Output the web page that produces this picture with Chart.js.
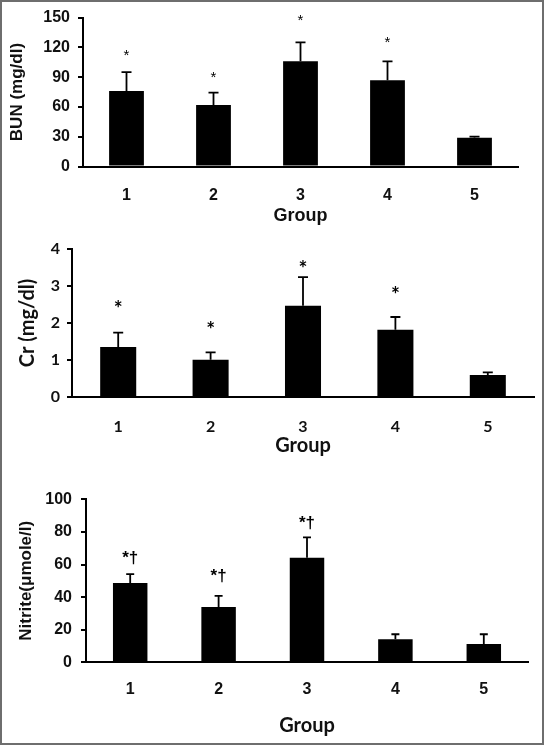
<!DOCTYPE html>
<html>
<head>
<meta charset="utf-8">
<script src="https://cdn.jsdelivr.net/npm/chart.js@4.4.1/dist/chart.umd.min.js"></script>
<style>
  html, body { margin: 0; padding: 0; background: #fff; }
  #frame { position: relative; width: 544px; height: 745px; overflow: hidden; background: #fff; }
  #frame:after { content: ""; position: absolute; left: 0; top: 0; width: 540px; height: 741px; border: 2px solid #6e6e6e; pointer-events: none; }
  canvas { position: absolute; left: 0; }
</style>
</head>
<body>
<div id="frame">
  <canvas id="c1" width="544" height="232" style="top:0px"></canvas>
  <canvas id="c2" width="544" height="228" style="top:232px"></canvas>
  <canvas id="c3" width="544" height="285" style="top:460px"></canvas>
</div>
<script>
// ---- data ----
const groups = ['1', '2', '3', '4', '5'];

const bunMean = [76, 62, 106, 87, 29];
const bunSD   = [19, 12.5, 19, 19, 1];
const bunMarks = ['*', '*', '*', '*', ''];
const bunMarkLevel = [115, 93, 151, 128, null];
const bunTicks = [0, 30, 60, 90, 120, 150];

const crMean = [1.35, 1.01, 2.46, 1.82, 0.6];
const crSD   = [0.39, 0.2, 0.77, 0.34, 0.07];
const crMarks = ['*', '*', '*', '*', ''];
const crMarkLevel = [2.48, 1.91, 3.55, 2.87, null];
const crTicks = [0, 1, 2, 3, 4];

const nitMean = [48.7, 34, 64.1, 14.1, 11.3];
const nitSD   = [5.4, 6.8, 12.5, 3.1, 5.9];
const nitMarks = ['*†', '*†', '*†', '', ''];
const nitMarkLevel = [63.4, 52.5, 84.8, null, null];
const nitTicks = [0, 20, 40, 60, 80, 100];

// ---- error bar + significance mark plugin ----
const errPlugin = {
  id: 'errbars',
  afterDatasetsDraw(chart, args, o) {
    const ctx = chart.ctx;
    const meta = chart.getDatasetMeta(0);
    const ys = chart.scales.y;
    const vals = chart.data.datasets[0].data;
    ctx.save();
    ctx.strokeStyle = '#000';
    ctx.lineWidth = o.lineWidth;
    meta.data.forEach((bar, i) => {
      const yBar = ys.getPixelForValue(vals[i]);
      const yTop = ys.getPixelForValue(vals[i] + o.errors[i]);
      ctx.beginPath();
      ctx.moveTo(bar.x, yBar);
      ctx.lineTo(bar.x, yTop);
      ctx.moveTo(bar.x - o.cap / 2, yTop);
      ctx.lineTo(bar.x + o.cap / 2, yTop);
      ctx.stroke();
      const m = o.marks[i];
      if (m) {
        ctx.fillStyle = '#000';
        ctx.font = o.font;
        ctx.textAlign = 'center';
        ctx.textBaseline = 'alphabetic';
        ctx.fillText(m, bar.x, ys.getPixelForValue(o.levels[i]) + o.baseShift);
      }
    });
    ctx.restore();
  }
};

function makeChart(id, cfg) {
  const tickVals = cfg.ticks;
  return new Chart(document.getElementById(id), {
    type: 'bar',
    data: {
      labels: groups,
      datasets: [{
        data: cfg.mean,
        backgroundColor: '#000',
        borderColor: '#000',
        borderWidth: 0,
        categoryPercentage: 1,
        barPercentage: cfg.barPct
      }]
    },
    options: {
      responsive: false,
      animation: false,
      events: [],
      layout: { padding: { top: cfg.padTop, right: cfg.padRight, left: 0, bottom: 0 } },
      plugins: {
        legend: { display: false },
        tooltip: { enabled: false },
        errbars: {
          errors: cfg.sd, marks: cfg.marks, levels: cfg.levels,
          font: cfg.markFont, baseShift: cfg.baseShift, cap: cfg.cap, lineWidth: 1.8
        }
      },
      scales: {
        x: {
          afterFit(s) { s.height = cfg.xHeight; },
          grid: { display: true, drawOnChartArea: false, drawTicks: false },
          border: { display: true, color: '#000', width: 2 },
          ticks: { color: '#111', font: cfg.xTickFont, padding: cfg.xTickPad, maxRotation: 0 },
          title: { display: true, text: 'Group', color: '#111', font: cfg.xTitleFont, padding: { top: 0, bottom: cfg.xTitlePad } }
        },
        y: {
          min: tickVals[0],
          max: tickVals[tickVals.length - 1],
          afterFit(s) { s.width = cfg.yWidth; },
          afterBuildTicks(s) { s.ticks = tickVals.map(v => ({ value: v })); },
          grid: { display: true, drawOnChartArea: false, drawTicks: true, tickLength: 5, color: '#000', lineWidth: 2 },
          border: { display: true, color: '#000', width: 2 },
          ticks: { color: '#111', font: cfg.yTickFont, padding: cfg.yTickPad },
          title: { display: true, text: cfg.yTitle, color: '#111', font: cfg.yTitleFont, padding: { top: cfg.yTitlePad, bottom: 0 } }
        }
      }
    },
    plugins: [errPlugin]
  });
}

const arialB = (s) => ({ family: '"Liberation Sans", Arial, sans-serif', size: s, weight: 'bold' });
const latoB = (s) => ({ family: 'Lato, "Open Sans", sans-serif', size: s, weight: 'bold' });

makeChart('c1', {
  mean: bunMean, sd: bunSD, marks: bunMarks, levels: bunMarkLevel, ticks: bunTicks,
  barPct: 0.4, padTop: 14, padRight: 26, yWidth: 83, xHeight: 65.5,
  xTickFont: arialB(16), xTickPad: 19, xTitleFont: arialB(18), xTitlePad: 5,
  yTickFont: arialB(16), yTickPad: 8, yTitle: 'BUN (mg/dl)', yTitleFont: arialB(17), yTitlePad: 7,
  markFont: 'normal 15px "Liberation Sans", Arial, sans-serif', baseShift: 8, cap: 10
});

makeChart('c2', {
  mean: crMean, sd: crSD, marks: crMarks, levels: crMarkLevel, ticks: crTicks,
  barPct: 0.39, padTop: 16.3, padRight: 10, yWidth: 72, xHeight: 62.7,
  xTickFont: latoB(16), xTickPad: 20, xTitleFont: latoB(20), xTitlePad: 2,
  yTickFont: latoB(16), yTickPad: 7, yTitle: 'Cr (mg/dl)', yTitleFont: latoB(20), yTitlePad: 16,
  markFont: 'bold 21px Lato, sans-serif', baseShift: 11, cap: 10
});

makeChart('c3', {
  mean: nitMean, sd: nitSD, marks: nitMarks, levels: nitMarkLevel, ticks: nitTicks,
  barPct: 0.39, padTop: 39.3, padRight: 16, yWidth: 86, xHeight: 82.7,
  xTickFont: arialB(16), xTickPad: 18, xTitleFont: latoB(20), xTitlePad: 7,
  yTickFont: arialB(16), yTickPad: 9, yTitle: 'Nitrite(μmole/l)', yTitleFont: arialB(17), yTitlePad: 16,
  markFont: 'bold 17px "Liberation Sans", Arial, sans-serif', baseShift: 4, cap: 8
});
</script>
</body>
</html>
